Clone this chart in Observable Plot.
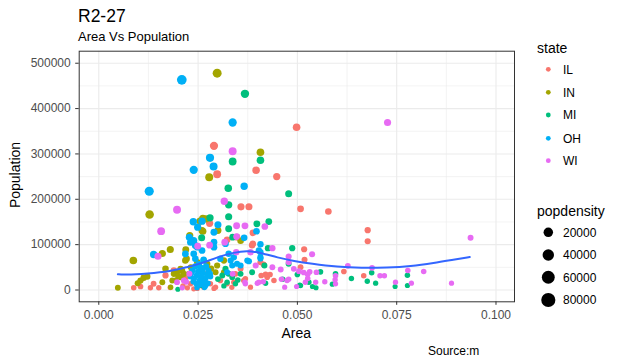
<!DOCTYPE html>
<html>
<head>
<meta charset="utf-8">
<script src="https://cdn.jsdelivr.net/npm/d3@7"></script>
<script src="https://cdn.jsdelivr.net/npm/@observablehq/plot@0.6"></script>
<style>
  html, body { margin: 0; padding: 0; background: #ffffff; }
  #wrap { position: relative; width: 622px; height: 362px; background: #ffffff; overflow: hidden; }
  #wrap svg { position: absolute; left: 0; top: 0; }
</style>
</head>
<body>
<div id="wrap"></div>
<script>
const FONT = '"Liberation Sans", Arial, "DejaVu Sans", sans-serif';

// ---- data ----
const states = ["IL", "IN", "MI", "OH", "WI"];
const stateColors = ["#F8766D", "#A3A500", "#00BF7D", "#00B0F6", "#E76BF3"];

const areaIL = [0.0498,0.0290,0.0396,0.0298,0.0448,0.0508,0.0358,0.0378,0.0578,0.0323,0.0386,0.0517,0.0348,0.0388,0.0388,0.0518,0.0407,0.0508,0.0677,0.0677,0.0617,0.0667,0.0409,0.0420,0.0431,0.0441,0.0088,0.0105,0.0138,0.0130,0.0151,0.0168,0.0189,0.0223,0.0239,0.0180,0.0264,0.0281,0.0294,0.0344,0.0357,0.0369,0.0382,0.0306,0.0273,0.0218,0.0231,0.0323,0.0340,0.0365,0.0279,0.0415,0.0424,0.0212,0.0248,0.0290,0.0335];
const popIL  = [358900,317900,264100,255300,250200,179000,183400,183400,173100,110700,98800,89900,116400,126100,101900,66600,61300,50300,131800,107600,40800,31300,32000,34200,34200,20900,4900,7700,13700,4900,4900,32000,43000,4900,2600,5500,6200,13700,6200,35700,46700,24700,6200,20900,35700,24700,13700,13700,17200,20900,147000,56200,28200,9000,3500,3500,6000];

const areaIN = [0.0298,0.0407,0.0278,0.0128,0.0270,0.0260,0.0300,0.0229,0.0357,0.0180,0.0160,0.0087,0.0048,0.0219,0.0262,0.0218,0.0098,0.0105,0.0113,0.0122,0.0160,0.0168,0.0181,0.0193,0.0206,0.0214,0.0221,0.0273,0.0189,0.0197,0.0206,0.0185,0.0227,0.0248,0.0294,0.0298,0.0315,0.0315,0.0255,0.0262,0.0200,0.0210,0.0232,0.0283];
const popIN  = [478000,303800,248700,166400,157000,131200,131200,120200,108500,89300,80500,65000,4900,88600,129600,65000,15000,20900,26900,29800,17200,46700,6200,20900,28200,35700,68800,57800,35700,39200,46700,20900,35700,61300,39200,54000,39200,65000,152000,158000,30000,42000,50000,47000];

const areaMI = [0.0368,0.0337,0.0407,0.0326,0.0478,0.0327,0.0327,0.0428,0.0398,0.0280,0.0259,0.0337,0.0426,0.0487,0.0327,0.0417,0.0420,0.0463,0.0500,0.0506,0.0558,0.0529,0.0538,0.0547,0.0596,0.0687,0.0777,0.0636,0.0676,0.0697,0.0746,0.0777,0.0588,0.0508,0.0199,0.0319,0.0327,0.0336,0.0311,0.0323,0.0344,0.0264,0.0256,0.0386,0.0357,0.0478,0.0300,0.0315,0.0350];
const popMI  = [432500,283300,286200,224400,212100,187800,161400,151000,145900,159200,115100,116400,92200,92200,134900,54000,15000,23800,34200,10600,40100,17200,7700,4900,35700,37900,32600,25400,19400,15000,7700,9900,12800,9900,1700,46700,35700,28200,32000,17200,13700,20900,9900,39200,35700,57800,24000,9000,22000];

const areaOH = [0.0209,0.0337,0.0280,0.0289,0.0239,0.0366,0.0127,0.0238,0.0260,0.0300,0.0249,0.0290,0.0228,0.0239,0.0366,0.0407,0.0138,0.0218,0.0248,0.0407,0.0397,0.0407,0.0378,0.0407,0.0290,0.0243,0.0264,0.0239,0.0260,0.0290,0.0319,0.0327,0.0340,0.0306,0.0336,0.0374,0.0403,0.0264,0.0231,0.0243,0.0236,0.0246,0.0254,0.0261,0.0269,0.0251,0.0271,0.0238,0.0276,0.0256,0.0231,0.0266,0.0281,0.0332,0.0348,0.0323,0.0357,0.0240,0.0250,0.0258,0.0265,0.0272,0.0245,0.0262,0.0252,0.0270,0.0280,0.0233,0.0247,0.0258,0.0268,0.0243,0.0255,0.0275];
const popOH  = [463400,369300,291500,272300,265000,228800,217800,150400,151700,143700,138400,127400,116400,109100,115100,101000,78300,79800,94400,69400,129600,83300,63500,72300,105400,68800,66600,79800,87100,94400,101900,79800,72300,68800,54000,65000,87100,65000,105400,98100,43000,32000,20900,38600,25400,9900,12100,18700,43000,49600,29800,5500,29800,65000,57800,39200,54000,25000,40000,30000,18000,35000,14000,47000,57000,52000,36000,38000,5000,12000,8000,52000,23000,15000];

const areaWI = [0.0337,0.0316,0.0197,0.0157,0.0347,0.0368,0.0418,0.0149,0.0347,0.0279,0.0249,0.0437,0.0537,0.0478,0.0317,0.0346,0.0478,0.0437,0.0458,0.0399,0.0414,0.0460,0.0474,0.0478,0.0504,0.0498,0.0526,0.0516,0.0531,0.0548,0.0526,0.0520,0.0546,0.0569,0.0596,0.0595,0.0596,0.0627,0.0468,0.0688,0.0708,0.0719,0.0778,0.0818,0.0747,0.0787,0.0888,0.0936,0.0197,0.0214,0.0382,0.0395,0.0403,0.0369,0.0220,0.0210,0.0228,0.0337,0.0368,0.0491,0.0727];
const popWI  = [306000,195800,176800,129600,141500,141500,140000,74500,117900,98800,96600,92200,78900,73900,105400,83300,61300,50300,45200,15000,18100,23800,20900,23800,41400,7700,34200,38600,40100,39200,25400,17200,17200,18100,31300,22500,13700,53400,6200,48900,31300,31300,43000,40800,17200,15000,15000,115100,17200,20900,83300,54000,17200,13700,18100,4900,35700,35700,17200,46700,369300];

// loess smooth
const smoothArea = [0.0048,0.0063,0.0123,0.0181,0.0223,0.0257,0.0299,0.0341,0.0374,0.0408,0.0450,0.0492,0.0534,0.0601,0.0660,0.0727,0.0785,0.0844,0.0894,0.0934];
const smoothPop  = [34800,33500,36100,41200,50700,58100,72700,83000,86500,82300,71400,63900,58100,50700,48500,49300,52200,59500,67000,72700];

// axis breaks
const xMajor = [0, 0.025, 0.05, 0.075, 0.1];
const xMinor = [0.0125, 0.0375, 0.0625, 0.0875];
const yMajor = [0, 100000, 200000, 300000, 400000, 500000];
const yMinor = [50000, 150000, 250000, 350000, 450000];
const sizeBreaks = [20000, 40000, 60000, 80000];

// ---- build table ----
const byState = {IL: [areaIL, popIL], IN: [areaIN, popIN], MI: [areaMI, popMI], OH: [areaOH, popOH], WI: [areaWI, popWI]};
const rows = [];
for (const s of states) {
  const [a, p] = byState[s];
  a.forEach((v, i) => rows.push({state: s, area: v, pop: p[i]}));
}
const smooth = smoothArea.map((v, i) => ({area: v, pop: smoothPop[i]}));

const plot = Plot.plot({
  width: 622,
  height: 362,
  marginLeft: 78.7,
  marginRight: 108,
  marginTop: 50.7,
  marginBottom: 60.7,
  style: {fontFamily: FONT, background: "transparent", overflow: "visible"},
  x: {domain: [-0.00493, 0.10466]},
  y: {domain: [-26000, 526500]},
  color: {domain: states, range: stateColors},
  r: {type: "sqrt", domain: [0, 88018], range: [2.4, 7.3], clamp: true},
  marks: [
    Plot.ruleX(xMinor, {stroke: "#EBEBEB", strokeWidth: 0.6}),
    Plot.ruleY(yMinor, {stroke: "#EBEBEB", strokeWidth: 0.6}),
    Plot.ruleX(xMajor, {stroke: "#EBEBEB", strokeWidth: 1.1}),
    Plot.ruleY(yMajor, {stroke: "#EBEBEB", strokeWidth: 1.1}),
    Plot.dot(rows, {x: "area", y: "pop", fill: "state", r: d => d.pop / d.area / 1000, sort: null}),
    Plot.line(smooth, {x: "area", y: "pop", stroke: "#3366FF", strokeWidth: 2, curve: "basis"}),
    Plot.frame({stroke: "#333333", strokeWidth: 1}),
    Plot.axisX(xMajor, {tickFormat: d3.format(".3f"), tickSize: 3.5, tickPadding: 5, fontSize: 12, stroke: "#333333", fill: "#4D4D4D", label: null}),
    Plot.axisY(yMajor, {tickFormat: d3.format("d"), tickSize: 3.5, tickPadding: 5, fontSize: 12, stroke: "#333333", fill: "#4D4D4D", label: null})
  ]
});

const wrap = document.getElementById("wrap");
wrap.appendChild(plot);

// ---- titles, axis titles, caption and legends ----
const rScale = plot.scale("r");
const rOf = v => {
  const [d0, d1] = rScale.domain, [r0, r1] = rScale.range;
  return r0 + (r1 - r0) * Math.sqrt((v - d0) / (d1 - d0));
};

const ov = d3.create("svg")
  .attr("width", 622).attr("height", 362)
  .style("font-family", FONT);

ov.append("text").attr("x", 78).attr("y", 22).attr("font-size", 17.5).attr("fill", "#000").text("R2-27");
ov.append("text").attr("x", 78).attr("y", 40.7).attr("font-size", 13).attr("fill", "#000").text("Area Vs Population");
ov.append("text").attr("x", 296.3).attr("y", 337.5).attr("font-size", 14).attr("text-anchor", "middle").attr("fill", "#000").text("Area");
ov.append("text").attr("transform", "translate(19.5,175) rotate(-90)").attr("font-size", 14).attr("text-anchor", "middle").attr("fill", "#000").text("Population");
ov.append("text").attr("x", 428).attr("y", 355).attr("font-size", 12).attr("fill", "#000").text("Source:m");

// colour legend
ov.append("text").attr("x", 537).attr("y", 52.5).attr("font-size", 14).attr("fill", "#000").text("state");
const colY = [69.3, 92.3, 115, 138.3, 160.7];
states.forEach((s, i) => {
  ov.append("circle").attr("cx", 548.3).attr("cy", colY[i]).attr("r", 2.4).attr("fill", plot.scale("color").apply(s));
  ov.append("text").attr("x", 563).attr("y", colY[i]).attr("dy", "0.36em").attr("font-size", 12).attr("fill", "#000").text(s);
});

// size legend
ov.append("text").attr("x", 537).attr("y", 215.5).attr("font-size", 14).attr("fill", "#000").text("popdensity");
const sizeY = [232.3, 255, 277.3, 300];
sizeBreaks.forEach((v, i) => {
  ov.append("circle").attr("cx", 548.3).attr("cy", sizeY[i]).attr("r", rOf(v)).attr("fill", "#000");
  ov.append("text").attr("x", 563).attr("y", sizeY[i]).attr("dy", "0.36em").attr("font-size", 12).attr("fill", "#000").text(String(v));
});

wrap.appendChild(ov.node());
</script>
</body>
</html>
